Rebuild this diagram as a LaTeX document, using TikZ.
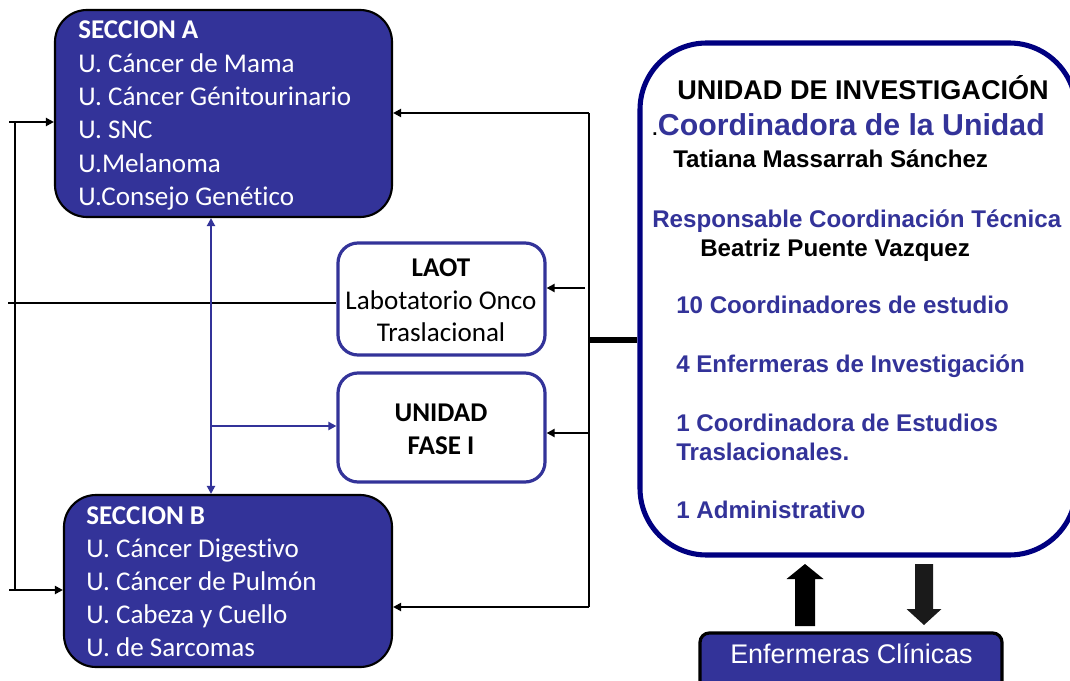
\documentclass[tikz,border=0pt]{standalone}
\usepackage{fontspec}
\newfontfamily\calfont[RawFeature={-liga;-clig;-dlig;-calt}]{Carlito}
\newfontfamily\arifont{Liberation Sans}
\usetikzlibrary{arrows.meta,fit}
\definecolor{sblue}{HTML}{333399}
\definecolor{navyb}{HTML}{000080}
\definecolor{dgray}{HTML}{1A1A1A}
\begin{document}
\begin{tikzpicture}[x=0.75pt,y=-0.75pt,
  secbox/.style={draw=black, line width=1.6pt, fill=sblue, rounded corners=24pt, inner sep=0pt},
  midbox/.style={draw=sblue, line width=2.4pt, fill=white, rounded corners=15pt, inner sep=0pt},
  bigbox/.style={draw=navyb, line width=3.8pt, fill=white, rounded corners=50pt, inner sep=0pt},
  nursebox/.style={draw=black, line width=2.4pt, fill=sblue, rounded corners=7pt, inner sep=0pt},
  tip/.style={-{Triangle[length=6pt,width=6pt]}},
  conn/.style={line width=1.5pt, draw=black},
  arr/.style={conn, tip},
  bconn/.style={line width=1.5pt, draw=sblue},
  wtxt/.style={anchor=base west, text=white, inner sep=0pt, font=\calfont\fontsize{20.3}{24}\selectfont},
  wbtxt/.style={wtxt, font=\calfont\bfseries\fontsize{20.3}{24}\selectfont},
  mtxt/.style={anchor=base, text=black, inner sep=0pt, font=\calfont\fontsize{20.3}{24}\selectfont},
  mbtxt/.style={mtxt, font=\calfont\bfseries\fontsize{20.3}{24}\selectfont},
  ktxt/.style={anchor=base west, text=black, inner sep=0pt, font=\arifont\bfseries\fontsize{18.1}{22}\selectfont},
  btxt/.style={anchor=base west, text=sblue, inner sep=0pt, font=\arifont\bfseries\fontsize{18.1}{22}\selectfont}
]
\clip (0,0) rectangle (1070,681);
\fill[white] (0,0) rectangle (1070,681);

% boxes
\node[secbox, fit={(55,10) (392,217)}] (secA) {};
\node[secbox, fit={(64,495) (392,667)}] (secB) {};
\node[midbox, fit={(338,243) (545,355)}] (laot) {};
\node[midbox, fit={(338,373) (545,482)}] (fase) {};
\node[bigbox, fit={(640,43) (1076,555)}] (big) {};
\node[nursebox, fit={(700,633) (1002,700)}] (nurse) {};

% Section A text
\node[wbtxt] (a0) at (78,39) {SECCION A};
\node[wtxt] (a1) at (78,73) {U. Cáncer de Mama};
\node[wtxt] (a2) at (78,106) {U. Cáncer Génitourinario};
\node[wtxt] (a3) at (78,139) {U. SNC};
\node[wtxt] (a4) at (78,172) {U.Melanoma};
\node[wtxt] (a5) at (78,205) {U.Consejo Genético};

% Section B text
\node[wbtxt] (b0) at (86,524) {SECCION B};
\node[wtxt] (b1) at (86,557) {U. Cáncer Digestivo};
\node[wtxt] (b2) at (86,590) {U. Cáncer de Pulmón};
\node[wtxt] (b3) at (86,623) {U. Cabeza y Cuello};
\node[wtxt] (b4) at (86,656) {U. de Sarcomas};

% LAOT / FASE text
\node[mbtxt] (l0) at (441,276) {LAOT};
\node[mtxt] (l1) at (441,309) {Labotatorio Onco};
\node[mtxt] (l2) at (441,341) {Traslacional};
\node[mbtxt] (f0) at (441,421) {UNIDAD};
\node[mbtxt] (f1) at (441,454) {FASE I};

% big box text
\node[ktxt, font=\arifont\bfseries\fontsize{20.3}{24}\selectfont] (u0) at (677,100) {UNIDAD DE INVESTIGACIÓN};
\node[ktxt, font=\arifont\bfseries\fontsize{14}{16}\selectfont] (u1d) at (652,136) {.};
\node[btxt, font=\arifont\bfseries\fontsize{22.7}{26}\selectfont, anchor=base west] (u1) at (u1d.base east) {Coordinadora de la Unidad};
\node[ktxt] (u2) at (673,167) {Tatiana Massarrah Sánchez};
\node[btxt] (u3) at (652,227) {Responsable Coordinación Técnica};
\node[ktxt] (u4) at (700,256) {Beatriz Puente Vazquez};
\node[btxt] (u5) at (676,313) {10 Coordinadores de estudio};
\node[btxt] (u6) at (676,372) {4 Enfermeras de Investigación};
\node[btxt] (u7) at (676,431) {1 Coordinadora de Estudios};
\node[btxt] (u8) at (676,460) {Traslacionales.};
\node[btxt] (u9) at (676,518) {1 Administrativo};

\node[anchor=base west, inner sep=0pt, text=white, font=\arifont\fontsize{20.2}{24}\selectfont] (n0) at (730,663) {Enfermeras Clínicas};

% left connectors
\coordinate (lA) at (9,122);
\coordinate (lB) at (9,590);
\coordinate (lv1) at (15,122);
\coordinate (lv2) at (15,590);
\coordinate (lL) at (8,303);
\draw[conn] (lv1) -- (lv2);
\draw[arr] (lA) -- (lA -| secA.west);
\draw[arr] (lB) -- (lB -| secB.west);
\draw[conn] (lL) -- (lL -| laot.west);

% blue connectors
\coordinate (bx) at (211,0);
\coordinate (bh) at (211,426);
\draw[bconn, {Triangle[length=6pt,width=6pt]}-{Triangle[length=6pt,width=6pt]}] (bx |- secA.south) -- (bx |- secB.north);
\draw[bconn, tip] (bh) -- (bh -| fase.west);

% right connectors
\coordinate (r1) at (589,113);
\coordinate (r2) at (589,607);
\coordinate (r3) at (585,288);
\coordinate (r4) at (589,433);
\coordinate (r5) at (589,340);
\draw[conn] (r1) -- (r2);
\draw[arr] (r1) -- (r1 -| secA.east);
\draw[arr] (r2) -- (r2 -| secB.east);
\draw[arr] (r3) -- (r3 -| laot.east);
\draw[arr] (r4) -- (r4 -| fase.east);
\draw[line width=5pt] (r5) -- (r5 -| big.west);

% block arrows
\fill[black] (805,564) -- (823.5,579) -- (815,579) -- (815,626) -- (795,626) -- (795,579) -- (786.5,579) -- cycle;
\fill[dgray] (915,564) -- (933,564) -- (933,609) -- (941.5,609) -- (924,625) -- (906.5,609) -- (915,609) -- cycle;
\end{tikzpicture}
\end{document}
